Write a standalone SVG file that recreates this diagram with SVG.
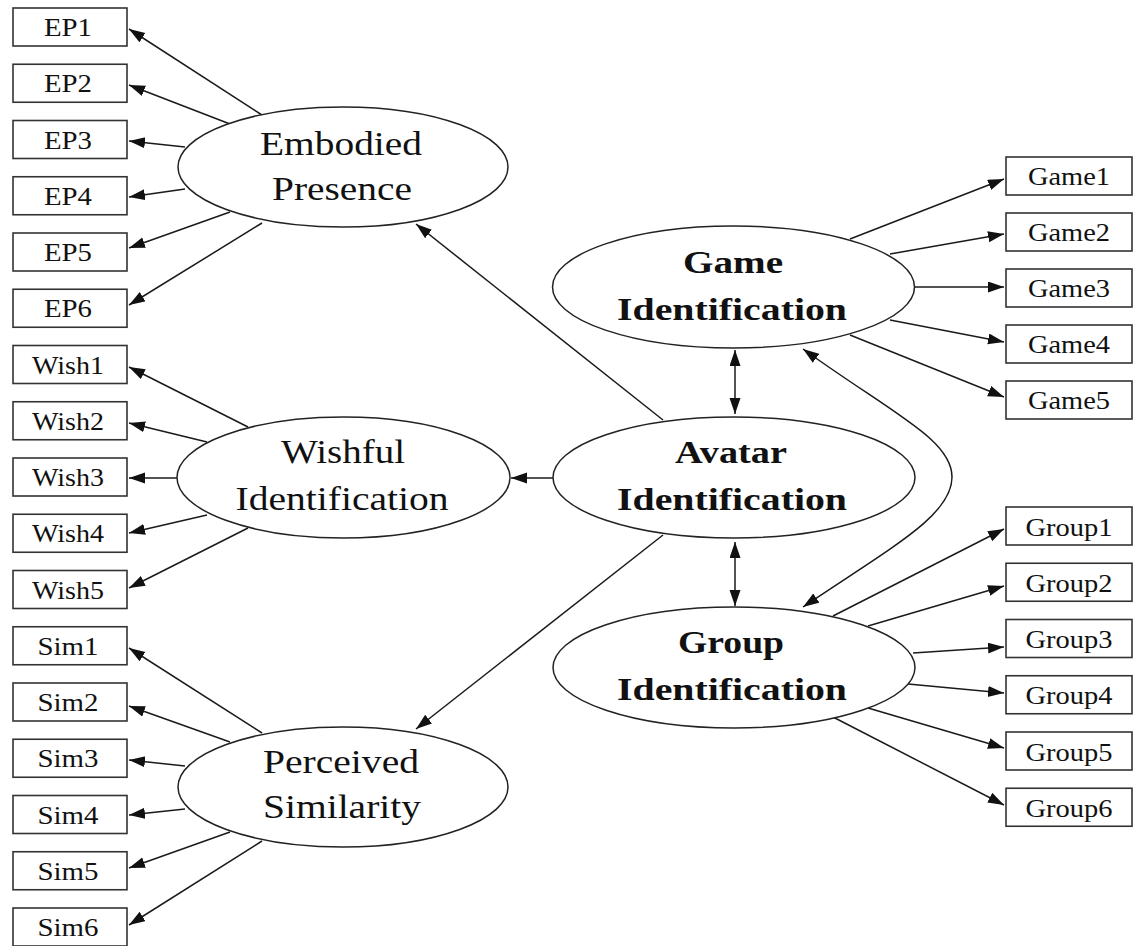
<svg xmlns="http://www.w3.org/2000/svg" width="1133" height="946" viewBox="0 0 1133 946">
<defs>
<style>
.box{fill:#fff;stroke:#333;stroke-width:1.6}
.ell{fill:#fff;stroke:#222;stroke-width:1.5}
.edge{fill:none;stroke:#1a1a1a;stroke-width:1.5}
.sm{font-family:"Liberation Serif","Times New Roman",serif;font-size:25px;fill:#111;text-anchor:middle}
.lg{font-family:"Liberation Serif","Times New Roman",serif;font-size:34px;fill:#111;text-anchor:middle}
.bd{font-family:"Liberation Serif","Times New Roman",serif;font-size:32px;font-weight:bold;fill:#111;text-anchor:middle}
</style>
<marker id="ah" markerUnits="userSpaceOnUse" markerWidth="17" markerHeight="12" refX="16" refY="5.5" orient="auto-start-reverse" viewBox="0 0 17 12">
<path d="M0,0 L16,5.5 L0,11 z" fill="#111"/>
</marker>
</defs>
<rect width="1133" height="946" fill="#fff"/>

<g id="connectors">
<line class="edge" x1="262" y1="115" x2="129" y2="29" marker-end="url(#ah)"/>
<line class="edge" x1="230" y1="124" x2="129" y2="85" marker-end="url(#ah)"/>
<line class="edge" x1="185" y1="147" x2="129" y2="141" marker-end="url(#ah)"/>
<line class="edge" x1="185" y1="189" x2="129" y2="197" marker-end="url(#ah)"/>
<line class="edge" x1="230" y1="212" x2="129" y2="248" marker-end="url(#ah)"/>
<line class="edge" x1="262" y1="223" x2="129" y2="305" marker-end="url(#ah)"/>
<line class="edge" x1="248" y1="427" x2="129" y2="367" marker-end="url(#ah)"/>
<line class="edge" x1="207" y1="442" x2="129" y2="423" marker-end="url(#ah)"/>
<line class="edge" x1="177" y1="478" x2="129" y2="478" marker-end="url(#ah)"/>
<line class="edge" x1="207" y1="515" x2="129" y2="533" marker-end="url(#ah)"/>
<line class="edge" x1="248" y1="528" x2="129" y2="588" marker-end="url(#ah)"/>
<line class="edge" x1="262" y1="733" x2="129" y2="648" marker-end="url(#ah)"/>
<line class="edge" x1="230" y1="742" x2="129" y2="706" marker-end="url(#ah)"/>
<line class="edge" x1="185" y1="766" x2="129" y2="760" marker-end="url(#ah)"/>
<line class="edge" x1="185" y1="809" x2="129" y2="815" marker-end="url(#ah)"/>
<line class="edge" x1="230" y1="832" x2="129" y2="868" marker-end="url(#ah)"/>
<line class="edge" x1="262" y1="841" x2="129" y2="925" marker-end="url(#ah)"/>
<line class="edge" x1="850" y1="239" x2="1004" y2="179" marker-end="url(#ah)"/>
<line class="edge" x1="890" y1="254" x2="1004" y2="234" marker-end="url(#ah)"/>
<line class="edge" x1="915" y1="287" x2="1004" y2="287" marker-end="url(#ah)"/>
<line class="edge" x1="890" y1="320" x2="1004" y2="342" marker-end="url(#ah)"/>
<line class="edge" x1="850" y1="335" x2="1004" y2="397" marker-end="url(#ah)"/>
<line class="edge" x1="833" y1="616" x2="1004" y2="529" marker-end="url(#ah)"/>
<line class="edge" x1="868" y1="626" x2="1004" y2="586" marker-end="url(#ah)"/>
<line class="edge" x1="913" y1="653" x2="1004" y2="647" marker-end="url(#ah)"/>
<line class="edge" x1="908" y1="684" x2="1004" y2="693" marker-end="url(#ah)"/>
<line class="edge" x1="868" y1="708" x2="1004" y2="748" marker-end="url(#ah)"/>
<line class="edge" x1="833" y1="717" x2="1004" y2="805" marker-end="url(#ah)"/>
<line class="edge" x1="663" y1="420" x2="416" y2="224" marker-end="url(#ah)"/>
<line class="edge" x1="553" y1="478" x2="511" y2="478" marker-end="url(#ah)"/>
<line class="edge" x1="663" y1="535" x2="416" y2="729" marker-end="url(#ah)"/>
<line class="edge" x1="735" y1="350" x2="735" y2="414" marker-start="url(#ah)" marker-end="url(#ah)"/>
<line class="edge" x1="735" y1="542" x2="735" y2="606" marker-start="url(#ah)" marker-end="url(#ah)"/>
<path class="edge" d="M803,349 C895,415 952,440 952,477 C952,515 895,545 803,607" marker-start="url(#ah)" marker-end="url(#ah)"/>
</g>

<g id="ep">
<ellipse class="ell" cx="343" cy="167" rx="165" ry="60"/>
<text class="lg" x="341" y="155" textLength="162" lengthAdjust="spacingAndGlyphs">Embodied</text>
<text class="lg" x="342" y="200" textLength="140" lengthAdjust="spacingAndGlyphs">Presence</text>
</g>
<g id="wi">
<ellipse class="ell" cx="343.5" cy="477.5" rx="166.5" ry="60.5"/>
<text class="lg" x="343" y="463" textLength="124" lengthAdjust="spacingAndGlyphs">Wishful</text>
<text class="lg" x="342" y="510" textLength="213" lengthAdjust="spacingAndGlyphs">Identification</text>
</g>
<g id="ps">
<ellipse class="ell" cx="343" cy="787" rx="165" ry="60"/>
<text class="lg" x="341" y="773" textLength="156" lengthAdjust="spacingAndGlyphs">Perceived</text>
<text class="lg" x="342" y="818" textLength="158" lengthAdjust="spacingAndGlyphs">Similarity</text>
</g>
<g id="gi">
<ellipse class="ell" cx="733.5" cy="287" rx="181" ry="61"/>
<text class="bd" x="733" y="273" textLength="100" lengthAdjust="spacingAndGlyphs">Game</text>
<text class="bd" x="732" y="320" textLength="230" lengthAdjust="spacingAndGlyphs">Identification</text>
</g>
<g id="ai">
<ellipse class="ell" cx="734" cy="477.5" rx="181" ry="60.5"/>
<text class="bd" x="731" y="463" textLength="112" lengthAdjust="spacingAndGlyphs">Avatar</text>
<text class="bd" x="732" y="510" textLength="230" lengthAdjust="spacingAndGlyphs">Identification</text>
</g>
<g id="gr">
<ellipse class="ell" cx="734" cy="667.5" rx="181" ry="60.5"/>
<text class="bd" x="731" y="653" textLength="106" lengthAdjust="spacingAndGlyphs">Group</text>
<text class="bd" x="732" y="700" textLength="230" lengthAdjust="spacingAndGlyphs">Identification</text>
</g>

<g id="EP1"><rect class="box" x="13" y="8" width="114" height="38"/><text class="sm" x="68" y="36" textLength="48" lengthAdjust="spacingAndGlyphs">EP1</text></g>
<g id="EP2"><rect class="box" x="13" y="64.25" width="114" height="38"/><text class="sm" x="68" y="92.25" textLength="48" lengthAdjust="spacingAndGlyphs">EP2</text></g>
<g id="EP3"><rect class="box" x="13" y="120.5" width="114" height="38"/><text class="sm" x="68" y="148.5" textLength="48" lengthAdjust="spacingAndGlyphs">EP3</text></g>
<g id="EP4"><rect class="box" x="13" y="176.75" width="114" height="38"/><text class="sm" x="68" y="204.75" textLength="48" lengthAdjust="spacingAndGlyphs">EP4</text></g>
<g id="EP5"><rect class="box" x="13" y="233" width="114" height="38"/><text class="sm" x="68" y="261" textLength="48" lengthAdjust="spacingAndGlyphs">EP5</text></g>
<g id="EP6"><rect class="box" x="13" y="289.25" width="114" height="38"/><text class="sm" x="68" y="317.25" textLength="48" lengthAdjust="spacingAndGlyphs">EP6</text></g>
<g id="Wish1"><rect class="box" x="13" y="345.5" width="114" height="38"/><text class="sm" x="68" y="373.5" textLength="72" lengthAdjust="spacingAndGlyphs">Wish1</text></g>
<g id="Wish2"><rect class="box" x="13" y="401.75" width="114" height="38"/><text class="sm" x="68" y="429.75" textLength="72" lengthAdjust="spacingAndGlyphs">Wish2</text></g>
<g id="Wish3"><rect class="box" x="13" y="458" width="114" height="38"/><text class="sm" x="68" y="486" textLength="72" lengthAdjust="spacingAndGlyphs">Wish3</text></g>
<g id="Wish4"><rect class="box" x="13" y="514.25" width="114" height="38"/><text class="sm" x="68" y="542.25" textLength="72" lengthAdjust="spacingAndGlyphs">Wish4</text></g>
<g id="Wish5"><rect class="box" x="13" y="570.5" width="114" height="38"/><text class="sm" x="68" y="598.5" textLength="72" lengthAdjust="spacingAndGlyphs">Wish5</text></g>
<g id="Sim1"><rect class="box" x="13" y="626.75" width="114" height="38"/><text class="sm" x="68" y="654.75" textLength="61" lengthAdjust="spacingAndGlyphs">Sim1</text></g>
<g id="Sim2"><rect class="box" x="13" y="683" width="114" height="38"/><text class="sm" x="68" y="711" textLength="61" lengthAdjust="spacingAndGlyphs">Sim2</text></g>
<g id="Sim3"><rect class="box" x="13" y="739.25" width="114" height="38"/><text class="sm" x="68" y="767.25" textLength="61" lengthAdjust="spacingAndGlyphs">Sim3</text></g>
<g id="Sim4"><rect class="box" x="13" y="795.5" width="114" height="38"/><text class="sm" x="68" y="823.5" textLength="61" lengthAdjust="spacingAndGlyphs">Sim4</text></g>
<g id="Sim5"><rect class="box" x="13" y="851.75" width="114" height="38"/><text class="sm" x="68" y="879.75" textLength="61" lengthAdjust="spacingAndGlyphs">Sim5</text></g>
<g id="Sim6"><rect class="box" x="13" y="908" width="114" height="38"/><text class="sm" x="68" y="936" textLength="61" lengthAdjust="spacingAndGlyphs">Sim6</text></g>

<g id="Game1"><rect class="box" x="1006" y="157" width="126" height="38"/><text class="sm" x="1069" y="185" textLength="82" lengthAdjust="spacingAndGlyphs">Game1</text></g>
<g id="Game2"><rect class="box" x="1006" y="213" width="126" height="38"/><text class="sm" x="1069" y="241" textLength="82" lengthAdjust="spacingAndGlyphs">Game2</text></g>
<g id="Game3"><rect class="box" x="1006" y="269" width="126" height="38"/><text class="sm" x="1069" y="297" textLength="82" lengthAdjust="spacingAndGlyphs">Game3</text></g>
<g id="Game4"><rect class="box" x="1006" y="325" width="126" height="38"/><text class="sm" x="1069" y="353" textLength="82" lengthAdjust="spacingAndGlyphs">Game4</text></g>
<g id="Game5"><rect class="box" x="1006" y="381" width="126" height="38"/><text class="sm" x="1069" y="409" textLength="82" lengthAdjust="spacingAndGlyphs">Game5</text></g>
<g id="Group1"><rect class="box" x="1006" y="507" width="126" height="38"/><text class="sm" x="1069" y="535.5" textLength="87" lengthAdjust="spacingAndGlyphs">Group1</text></g>
<g id="Group2"><rect class="box" x="1006" y="563.25" width="126" height="38"/><text class="sm" x="1069" y="591.75" textLength="87" lengthAdjust="spacingAndGlyphs">Group2</text></g>
<g id="Group3"><rect class="box" x="1006" y="619.5" width="126" height="38"/><text class="sm" x="1069" y="648" textLength="87" lengthAdjust="spacingAndGlyphs">Group3</text></g>
<g id="Group4"><rect class="box" x="1006" y="675.75" width="126" height="38"/><text class="sm" x="1069" y="704.25" textLength="87" lengthAdjust="spacingAndGlyphs">Group4</text></g>
<g id="Group5"><rect class="box" x="1006" y="732" width="126" height="38"/><text class="sm" x="1069" y="760.5" textLength="87" lengthAdjust="spacingAndGlyphs">Group5</text></g>
<g id="Group6"><rect class="box" x="1006" y="788.25" width="126" height="38"/><text class="sm" x="1069" y="816.75" textLength="87" lengthAdjust="spacingAndGlyphs">Group6</text></g>
</svg>
